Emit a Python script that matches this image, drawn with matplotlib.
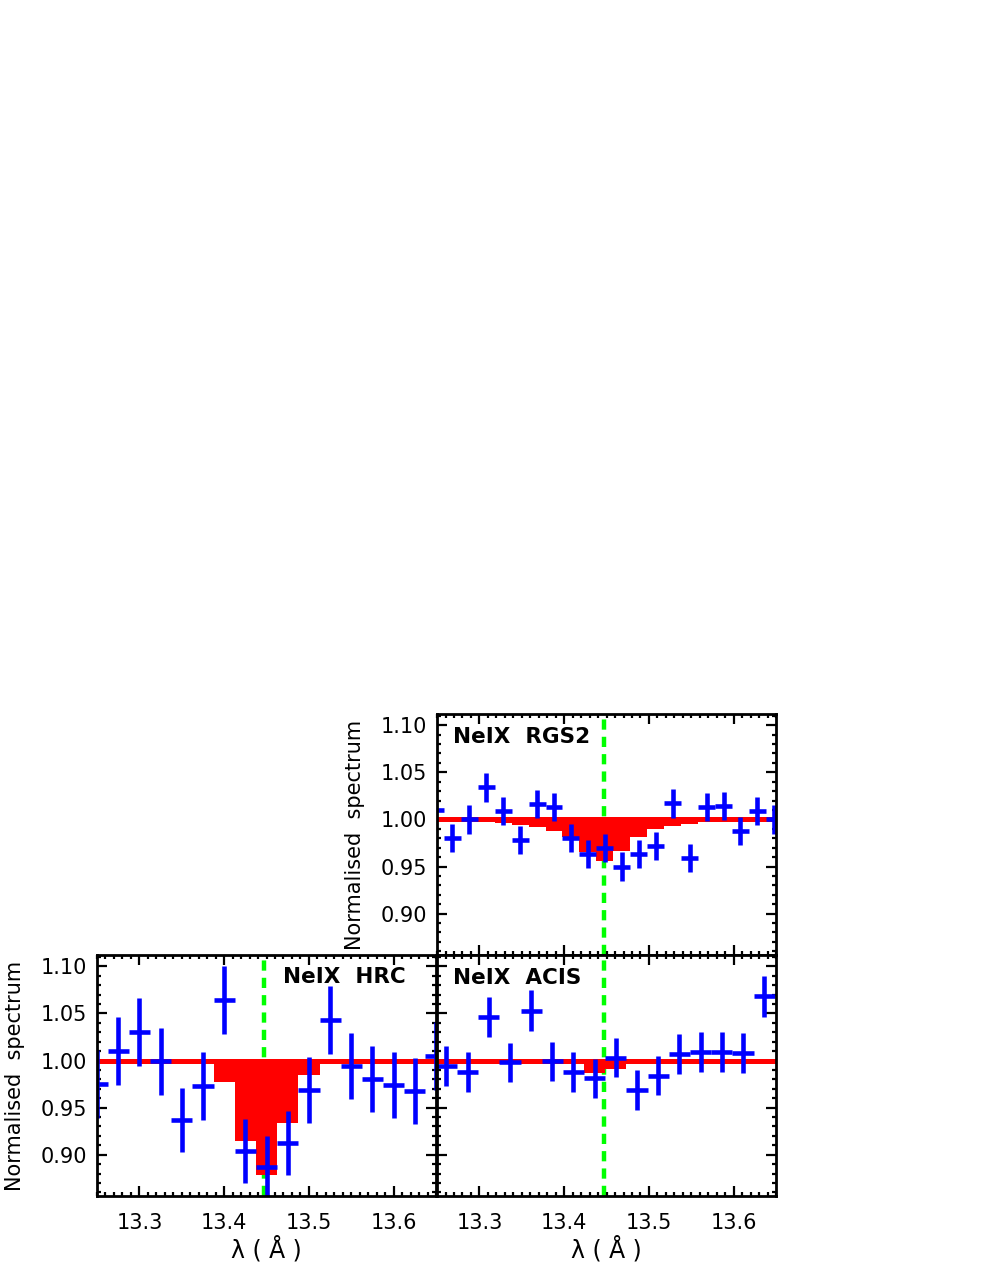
import numpy as np
import matplotlib
matplotlib.use("Agg")
import matplotlib.pyplot as plt
from matplotlib.ticker import MultipleLocator, FormatStrFormatter

# ---------------- data ----------------
line_wave = 13.447

# RGS2
rgs_wave = [13.248, 13.268, 13.288, 13.308, 13.328, 13.348, 13.368, 13.388, 13.408, 13.428,
            13.448, 13.468, 13.488, 13.508, 13.528, 13.548, 13.568, 13.588, 13.608, 13.628, 13.648]
rgs_flux = [1.010, 0.980, 1.000, 1.034, 1.009, 0.978, 1.016, 1.013, 0.980, 0.963,
            0.970, 0.950, 0.963, 0.972, 1.017, 0.959, 1.013, 1.014, 0.988, 1.009, 1.000]
rgs_err = [0.015, 0.015, 0.015, 0.015, 0.015, 0.015, 0.015, 0.015, 0.015, 0.015,
           0.015, 0.015, 0.015, 0.015, 0.015, 0.015, 0.015, 0.015, 0.015, 0.015, 0.015]
rgs_halfbin = 0.01
rgs_model = [1.0, 1.0, 1.0, 1.0, 0.9957, 0.994, 0.992, 0.988, 0.981, 0.9655,
             0.9556, 0.9666, 0.9815, 0.990, 0.993, 0.995, 0.997, 0.998, 1.0, 1.0, 1.0]

# HRC
hrc_wave = [13.250, 13.275, 13.300, 13.325, 13.350, 13.375, 13.400, 13.425, 13.450,
            13.475, 13.500, 13.525, 13.550, 13.575, 13.600, 13.625, 13.650]
hrc_flux = [0.975, 1.010, 1.030, 0.999, 0.937, 0.973, 1.064, 0.904, 0.887,
            0.912, 0.969, 1.043, 0.994, 0.980, 0.974, 0.968, 1.005]
hrc_err = [0.036, 0.036, 0.036, 0.036, 0.034, 0.036, 0.036, 0.034, 0.033,
           0.034, 0.035, 0.036, 0.035, 0.035, 0.035, 0.035, 0.036]
hrc_halfbin = 0.0125
hrc_model = [1.0, 1.0, 1.0, 1.0, 1.0, 0.997, 0.977, 0.915, 0.878,
             0.934, 0.985, 1.0, 1.0, 1.0, 1.0, 1.0, 1.0]

# ACIS
acis_wave = [13.261, 13.286, 13.311, 13.336, 13.361, 13.386, 13.411, 13.436,
             13.461, 13.486, 13.511, 13.536, 13.561, 13.586, 13.611, 13.636]
acis_flux = [0.994, 0.988, 1.046, 0.998, 1.053, 0.999, 0.988, 0.981,
             1.003, 0.969, 0.984, 1.007, 1.009, 1.009, 1.008, 1.068]
acis_err = [0.021, 0.021, 0.021, 0.021, 0.022, 0.021, 0.021, 0.021,
            0.021, 0.021, 0.021, 0.021, 0.021, 0.021, 0.021, 0.022]
acis_halfbin = 0.0125
acis_model = [1.0, 1.0, 1.0, 1.0, 1.0, 1.0, 0.998, 0.987,
              0.991, 1.0, 1.0, 1.0, 1.0, 1.0, 1.0, 1.0]

labels = {"rgs": "NeIX  RGS2", "hrc": "NeIX  HRC", "acis": "NeIX  ACIS"}
xlabel = "λ ( Å )"
ylabel = "Normalised  spectrum"

# ---------------- style ----------------
BLUE = (0, 0, 1)
RED = (1, 0, 0)
GREEN = (0, 1, 0)
plt.rcParams['font.family'] = ['DejaVu Sans']

fig = plt.figure(figsize=(9.81, 12.69), dpi=100)

W = 0.3456
H = 0.1900
ax_rgs = fig.add_axes([0.4455, 0.2474, W, H])
ax_hrc = fig.add_axes([0.0989, 0.0574, W, H])
ax_acis = fig.add_axes([0.4455, 0.0574, W, H])


def draw_panel(ax, wave, flux, err, halfbin, model, label, lx, ly):
    wave = np.asarray(wave)
    edges = np.concatenate([wave - halfbin, [wave[-1] + halfbin]])
    ax.axvline(line_wave, color=GREEN, lw=3.2, ls=(0, (2.3, 1.6)), zorder=1)
    ax.stairs(model, edges, baseline=1.0, fill=True, color=RED, lw=0, zorder=2)
    ax.axhline(1.0, color=RED, lw=3.6, zorder=3)
    ax.errorbar(wave, flux, yerr=err, xerr=halfbin, fmt='none', ecolor=BLUE,
                elinewidth=3.3, capsize=0, zorder=4)
    ax.set_xlim(13.25, 13.65)
    ax.set_ylim(0.856, 1.112)
    ax.xaxis.set_major_locator(MultipleLocator(0.1))
    ax.xaxis.set_minor_locator(MultipleLocator(0.01))
    ax.yaxis.set_major_locator(MultipleLocator(0.05))
    ax.yaxis.set_minor_locator(MultipleLocator(0.01))
    ax.xaxis.set_major_formatter(FormatStrFormatter('%.1f'))
    ax.yaxis.set_major_formatter(FormatStrFormatter('%.2f'))
    ax.tick_params(which='both', direction='in', top=True, right=True, width=1.6,
                   labelsize=15)
    ax.tick_params(which='major', length=7)
    ax.tick_params(which='minor', length=3.2)
    ax.tick_params(axis='x', which='major', pad=12)
    ax.tick_params(axis='y', which='major', pad=7)
    for s in ax.spines.values():
        s.set_linewidth(2.0)
        s.set_zorder(6)
    ax.text(lx, ly, label, transform=ax.transAxes, fontsize=15.5, fontweight='bold',
            ha='left', va='baseline', zorder=7)


draw_panel(ax_rgs, rgs_wave, rgs_flux, rgs_err, rgs_halfbin, rgs_model,
           labels["rgs"], 0.047, 0.88)
draw_panel(ax_hrc, hrc_wave, hrc_flux, hrc_err, hrc_halfbin, hrc_model,
           labels["hrc"], 0.549, 0.885)
draw_panel(ax_acis, acis_wave, acis_flux, acis_err, acis_halfbin, acis_model,
           labels["acis"], 0.047, 0.88)

ax_rgs.tick_params(axis='x', labelbottom=False)
ax_acis.tick_params(axis='y', labelleft=False)

for ax in (ax_rgs, ax_hrc):
    ax.set_ylabel(ylabel, fontsize=15)
    ax.yaxis.set_label_coords(-0.212, 0.5)
for ax in (ax_hrc, ax_acis):
    ax.set_xlabel(xlabel, fontsize=17, labelpad=2)

fig.savefig("out.png", dpi=100)
